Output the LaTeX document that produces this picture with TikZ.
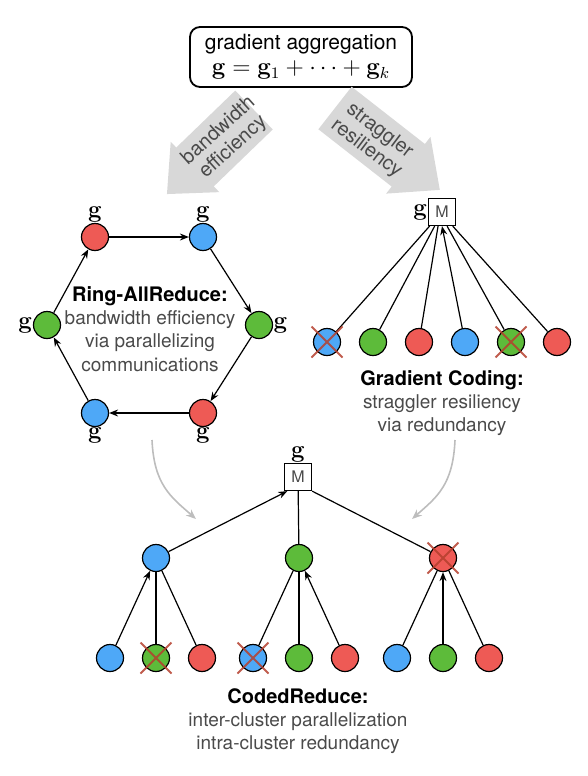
\documentclass[tikz,border=0pt]{standalone}
\usepackage{amsmath}
\usepackage[no-math]{fontspec}
\setmainfont{TeX Gyre Heros}
\usetikzlibrary{arrows.meta,shapes.misc,calc}

\definecolor{wred}{HTML}{EE5A55}
\definecolor{wblue}{HTML}{4EA8F7}
\definecolor{wgreen}{HTML}{5DBB3A}
\definecolor{xred}{HTML}{B5402E}
\definecolor{txtgray}{HTML}{4A4A4A}
\definecolor{fatgray}{HTML}{D8D8D8}
\definecolor{curvegray}{HTML}{BDBDBD}

\tikzset{
  worker/.style={circle, draw, semithick, minimum size=13.5pt, inner sep=0pt, label distance=2pt},
  wr/.style={worker, fill=wred},
  wb/.style={worker, fill=wblue},
  wg/.style={worker, fill=wgreen},
  master/.style={draw, semithick, minimum size=13.5pt, inner sep=0pt, text=txtgray,
    font=\fontsize{8}{8}\selectfont, label distance=2.5pt},
  glbl/.style={font=\fontsize{13}{13}\selectfont, inner sep=0pt},
  dead/.style={cross out, draw=xred, line width=1pt, draw opacity=0.85, minimum size=14.5pt, inner sep=0pt},
  fattxt/.style={align=center, text=txtgray, inner sep=0pt, font=\fontsize{10}{11}\selectfont},
  caption/.style={align=center, text=txtgray, font=\fontsize{9.5}{11.6}\selectfont},
  bendarr/.style={draw=curvegray, line width=0.8pt, -{Stealth[length=5pt,width=4pt]}},
}

\begin{document}
\begin{tikzpicture}[x=0.5pt,y=-0.5pt,>={Stealth[length=4.5pt,width=3.5pt]},node distance=23pt,semithick]

\useasboundingbox (0,0) rectangle (588,776);

% aggregation box
\node[draw, rounded corners=5pt, line width=0.9pt, align=center, minimum width=111pt, minimum height=30pt,
  inner sep=1pt, font=\fontsize{10.5}{12.5}\selectfont] (agg) at (301,57)
  {gradient aggregation\\{\fontsize{12}{12}\selectfont$\mathbf{g}=\mathbf{g}_1+\cdots+\mathbf{g}_k$}};

% wide arrows
\begin{scope}[shift={(254,110)}, rotate=224]
  \fill[fatgray] (0,-27) -- (82,-27) -- (82,-35) -- (121,0) -- (82,35) -- (82,27) -- (0,27) -- cycle;
\end{scope}
\begin{scope}[shift={(335,108)}, rotate=-38]
  \fill[fatgray] (0,-27) -- (93,-27) -- (93,-36) -- (133,0) -- (93,36) -- (93,27) -- (0,27) -- cycle;
\end{scope}
\node[fattxt, rotate=42] (bwtxt) at (226,139) {bandwidth\\efficiency};
\node[fattxt, rotate=-37] (srtxt) at (373,140) {straggler\\resiliency};

% ring
\node[wr, label={[glbl]above:$\mathbf{g}$}] (r1) at (95,237) {};
\node[wb, label={[glbl]above:$\mathbf{g}$}] (r2) at (203,237) {};
\node[wg, label={[glbl]right:$\mathbf{g}$}] (r3) at (259,325) {};
\node[wr, label={[glbl]below:$\mathbf{g}$}] (r4) at (203,413) {};
\node[wb, label={[glbl]below:$\mathbf{g}$}] (r5) at (95,413) {};
\node[wg, label={[glbl]left:$\mathbf{g}$}, label distance=3.5pt] (r6) at (47,325) {};

\path[->]
	(r1) edge (r2)
	(r2) edge (r3)
	(r3) edge (r4)
	(r4) edge (r5)
	(r5) edge (r6)
	(r6) edge (r1);

\node[caption] (ringtxt) at (150,329)
  {\textcolor{black}{\bfseries\fontsize{10}{11.6}\selectfont Ring-AllReduce:}\\bandwidth efficiency\\via parallelizing\\communications};

% gradient coding
\node[master, label={[glbl]left:$\mathbf{g}$}] (gM) at (442,212) {M};
\node[wb] (gc1) at (327,342) {};
\node[wg] (gc2) [right of=gc1] {};
\node[wr] (gc3) [right of=gc2] {};
\node[wb] (gc4) [right of=gc3] {};
\node[wg] (gc5) [right of=gc4] {};
\node[wr] (gc6) [right of=gc5] {};

\foreach \leaf/\pos in {gc1/0.06, gc2/0.24, gc3/0.36, gc5/0.68, gc6/0.88}
  \draw (\leaf) -- ($(gM.south west)!\pos!(gM.south east)$);
\draw[->] (gc4) -- (gM.south);

\node[dead] (gc1x) at (gc1) {};
\node[dead] (gc5x) at (gc5) {};

\node[caption] (gctxt) at (442,403)
  {\textcolor{black}{\bfseries\fontsize{10}{11.6}\selectfont Gradient Coding:}\\straggler resiliency\\via redundancy};

% coded reduce
\node[master, label={[glbl]above:$\mathbf{g}$}] (cM) at (298,477) {M};
\node[wb] (cm1) at (156,558) {};
\node[wg] (cm2) at (299,558) {};
\node[wr] (cm3) at (443,558) {};

\node[wg] (cl2) [below of=cm1, node distance=50pt] {};
\node[wb] (cl1) [left of=cl2] {};
\node[wr] (cl3) [right of=cl2] {};
\node[wg] (cl5) [below of=cm2, node distance=50pt] {};
\node[wb] (cl4) [left of=cl5] {};
\node[wr] (cl6) [right of=cl5] {};
\node[wg] (cl8) [below of=cm3, node distance=50pt] {};
\node[wb] (cl7) [left of=cl8] {};
\node[wr] (cl9) [right of=cl8] {};

\draw[->] (cm1) -- ($(cM.south west)!0.12!(cM.south east)$);
\draw (cm2) -- (cM);
\draw (cm3) -- (cM.south east);

\path
	(cl1) edge[->] (cm1)
	(cl2) edge (cm1)
	(cl3) edge (cm1)
	(cl4) edge (cm2)
	(cl5) edge (cm2)
	(cl6) edge[->] (cm2)
	(cl7) edge (cm3)
	(cl8) edge[->] (cm3)
	(cl9) edge (cm3);

\node[dead] (cl2x) at (cl2) {};
\node[dead] (cl4x) at (cl4) {};
\node[dead] (cm3x) at (cm3) {};

\node[caption] (crtxt) at (298,721)
  {\textcolor{black}{\bfseries\fontsize{10}{11.6}\selectfont CodedReduce:}\\inter-cluster parallelization\\intra-cluster redundancy};

% grey bends
\coordinate (ringout) at (152,440);
\coordinate (ringin)  at (196,519);
\coordinate (gcout)   at (455,440);
\coordinate (gcin)    at (412,519);
\draw[bendarr] (ringout) .. controls +(2,45) and +(-25,-22) .. (ringin);
\draw[bendarr] (gcout) .. controls +(-2,45) and +(25,-22) .. (gcin);

\end{tikzpicture}
\end{document}
